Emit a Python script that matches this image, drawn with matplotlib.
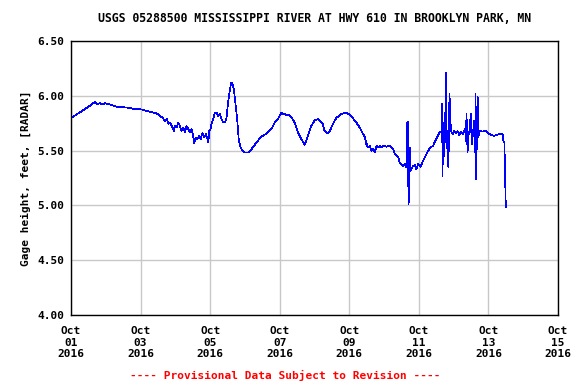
"""USGS gage height plot, Mississippi River at Hwy 610 in Brooklyn Park, MN (Oct 2016)."""
import numpy as np
import pandas as pd
import matplotlib
matplotlib.use("Agg")
import matplotlib.pyplot as plt

# days since 2016-10-01 00:00, gage height in feet
days = [
    0.02, 0.16, 0.31, 0.45, 0.59, 0.69, 0.76, 0.83, 0.90, 0.98, 1.12, 1.31, 1.60, 1.84, 1.98,
    2.27, 2.46, 2.56, 2.65, 2.70, 2.75, 2.80, 2.84, 2.92, 2.96, 2.99, 3.04, 3.08, 3.13, 3.18,
    3.23, 3.28, 3.32, 3.37, 3.42, 3.47, 3.52, 3.54, 3.58, 3.63, 3.69, 3.73, 3.78, 3.82, 3.88,
    3.92, 3.95, 3.97, 4.01, 4.05, 4.09, 4.14,
    4.18, 4.23, 4.28, 4.33, 4.38, 4.43, 4.47, 4.52, 4.57, 4.60, 4.62, 4.64, 4.68, 4.73, 4.78,
    4.82, 4.87, 4.93, 5.00, 5.09, 5.19, 5.33, 5.47, 5.62, 5.76, 5.86, 5.95, 6.05, 6.10, 6.14,
    6.20, 6.24, 6.33, 6.43, 6.53, 6.62, 6.72, 6.81, 6.91, 7.01, 7.10, 7.23, 7.29, 7.36, 7.43,
    7.53, 7.62, 7.77, 7.89, 8.00, 8.10, 8.20,
    8.30, 8.40, 8.45, 8.50, 8.51, 8.54, 8.59, 8.64, 8.69, 8.74, 8.78, 8.83, 8.88, 8.93, 8.97,
    9.07, 9.16, 9.21, 9.26, 9.31, 9.36, 9.41, 9.45, 9.50, 9.55, 9.60, 9.64,
    9.66, 9.68, 9.69, 9.70, 9.72, 9.74, 9.76, 9.82, 9.88, 9.93, 9.98, 10.05, 10.12, 10.22, 10.31,
    10.41, 10.48, 10.55, 10.60, 10.65, 10.67, 10.68, 10.70, 10.72, 10.75, 10.77, 10.78, 10.80,
    10.83, 10.85, 10.88, 10.90, 10.92, 10.97, 11.02, 11.07, 11.11, 11.16, 11.21, 11.27, 11.33,
    11.35, 11.37, 11.40, 11.42, 11.46, 11.49, 11.52, 11.56, 11.59, 11.62, 11.63, 11.65, 11.67,
    11.69, 11.71, 11.75, 11.83, 11.92, 12.00, 12.07, 12.17, 12.26, 12.36, 12.41, 12.43, 12.46,
    12.48, 12.50,
]
gage_ft = [
    5.80, 5.83, 5.86, 5.89, 5.92, 5.945, 5.92, 5.935, 5.92, 5.933, 5.92, 5.90, 5.893, 5.879, 5.879,
    5.854, 5.84, 5.818, 5.793, 5.77, 5.79, 5.742, 5.757, 5.711, 5.68, 5.726, 5.711, 5.757, 5.726, 5.68,
    5.711, 5.665, 5.726, 5.696, 5.665, 5.696, 5.62, 5.568, 5.62, 5.605, 5.635, 5.605, 5.665, 5.62, 5.65,
    5.605, 5.574, 5.68, 5.696, 5.757, 5.787, 5.848,
    5.848, 5.818, 5.833, 5.787, 5.757, 5.757, 5.80, 5.954, 6.06, 6.112, 6.12, 6.112, 6.06, 5.924, 5.772,
    5.605, 5.535, 5.498, 5.483, 5.483, 5.513, 5.574, 5.626, 5.656, 5.696, 5.757, 5.787, 5.848, 5.83, 5.84,
    5.82, 5.83, 5.808, 5.757, 5.665, 5.605, 5.553, 5.635, 5.726, 5.778, 5.787, 5.748, 5.68, 5.656, 5.674,
    5.742, 5.796, 5.833, 5.848, 5.83, 5.796, 5.757,
    5.71, 5.65, 5.62, 5.544, 5.56, 5.528, 5.544, 5.498, 5.513, 5.483, 5.544, 5.528, 5.544, 5.528, 5.544,
    5.535, 5.544, 5.528, 5.513, 5.468, 5.45, 5.437, 5.392, 5.377, 5.361, 5.377, 5.346,
    5.757, 5.316, 5.763, 5.012, 5.057, 5.523, 5.316, 5.352, 5.37, 5.331, 5.382, 5.352, 5.407, 5.468, 5.523,
    5.544, 5.595, 5.635, 5.674, 5.665, 5.924, 5.27, 5.757, 5.453, 5.62, 6.015, 6.213, 5.665,
    5.438, 5.346, 6.015, 5.878, 5.68, 5.65, 5.68, 5.656, 5.68, 5.644, 5.674, 5.65, 5.696,
    5.59, 5.833, 5.483, 5.635, 5.68, 5.84, 5.559, 5.665, 5.772, 5.483, 6.015, 5.24, 5.70,
    5.99, 5.62, 5.68, 5.674, 5.68, 5.656, 5.644, 5.635, 5.644, 5.656, 5.644, 5.59, 5.575,
    5.249, 4.98,
]

y_ticks = [4.00, 4.50, 5.00, 5.50, 6.00, 6.50]
tick_dates = pd.date_range("2016-10-01", "2016-10-15", freq="2D")

t0 = pd.Timestamp("2016-10-01")
times = t0 + pd.to_timedelta(np.array(days), unit="D")

mono = "DejaVu Sans Mono"
fig = plt.figure(figsize=(5.76, 3.84), dpi=100)
ax = fig.add_axes([71 / 576, 1 - 315 / 384, 487 / 576, 274 / 384])

ax.plot(times, gage_ft, color="#0000ff", lw=0.5, antialiased=False)

ax.set_xlim(tick_dates[0], tick_dates[-1])
ax.set_ylim(4.0, 6.5)
ax.set_yticks(y_ticks)
ax.set_yticklabels([f"{v:.2f}" for v in y_ticks], family=mono, weight="bold", fontsize=8)
ax.set_xticks(tick_dates)
ax.set_xticklabels([d.strftime("%b\n%d\n%Y") for d in tick_dates],
                   family=mono, weight="bold", fontsize=8)
ax.tick_params(length=0, pad=5)
ax.tick_params(axis="x", pad=8)
ax.grid(color="#c8c8c8", lw=1.0)
for s in ax.spines.values():
    s.set_linewidth(1.0)

ax.set_ylabel("Gage height, feet, [RADAR]", family=mono, weight="bold", fontsize=8)
ax.yaxis.set_label_coords(-0.082, 0.5)
ax.set_title("USGS 05288500 MISSISSIPPI RIVER AT HWY 610 IN BROOKLYN PARK, MN",
             family=mono, weight="bold", fontsize=8.3, pad=14)
fig.text(0.495, 1 - 375 / 384, "---- Provisional Data Subject to Revision ----",
         color="red", family=mono, weight="bold", fontsize=8, ha="center", va="center")

fig.savefig("out.png", dpi=100)
